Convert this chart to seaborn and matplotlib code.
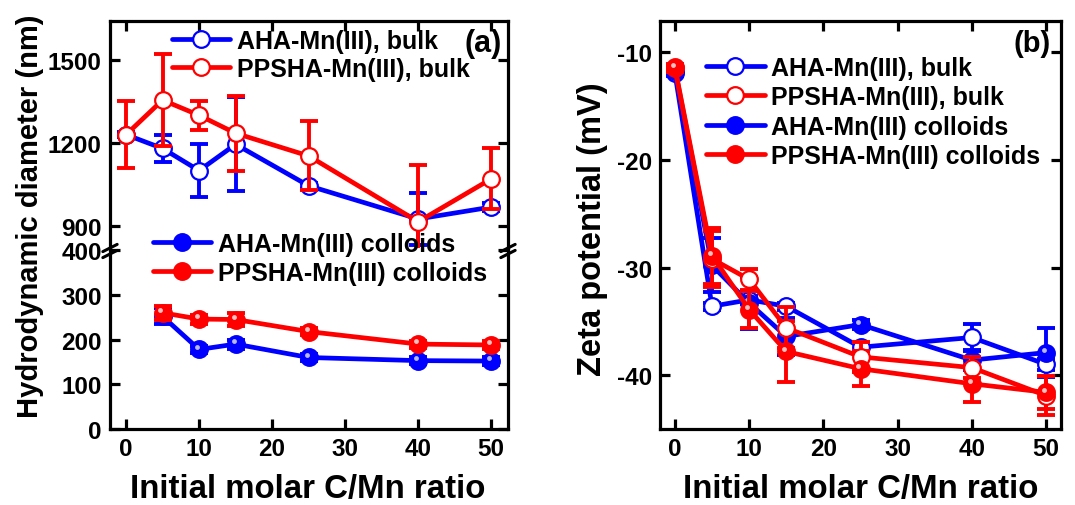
import numpy as np
import pandas as pd
import matplotlib
matplotlib.use("Agg")
import matplotlib.pyplot as plt
import matplotlib.transforms as mtransforms
from matplotlib.lines import Line2D
import seaborn as sns

sns.set_theme(style="ticks")
plt.rcParams["font.family"] = ["Liberation Sans", "DejaVu Sans"]
plt.rcParams["font.weight"] = "bold"
plt.rcParams["axes.labelweight"] = "bold"
plt.rcParams["axes.unicode_minus"] = False
for key in ("text.color", "axes.labelcolor", "xtick.color", "ytick.color",
            "axes.edgecolor"):
    plt.rcParams[key] = "black"

TICK_FS = 17.5
plt.rcParams["xtick.labelsize"] = TICK_FS
plt.rcParams["ytick.labelsize"] = TICK_FS

BLUE = "#0000FF"
RED = "#FF0000"

# ---- (a) hydrodynamic diameter ----
ratio_bulk = [0, 5, 10, 15, 25, 40, 50]
aha_bulk_d = [1230, 1180, 1100, 1195, 1045, 925, 968]
aha_bulk_d_err = [10, 50, 95, 170, 10, 95, 15]
ppsha_bulk_d = [1230, 1355, 1300, 1235, 1153, 915, 1070]
ppsha_bulk_d_err = [120, 165, 52, 135, 125, 205, 110]

ratio_coll = [5, 10, 15, 25, 40, 50]
aha_coll_d = [252, 178, 190, 160, 153, 152]
aha_coll_d_err = [18, 8, 10, 8, 8, 8]
ppsha_coll_d = [260, 246, 245, 218, 190, 188]
ppsha_coll_d_err = [15, 10, 15, 8, 8, 8]

# ---- (b) zeta potential ----
ratio_zeta = [0, 5, 10, 15, 25, 40, 50]
aha_bulk_z = [-11.9, -33.6, -33.0, -33.6, -37.4, -36.5, -39.0]
aha_bulk_z_err = [0.3, 0.3, 0.4, 0.3, 0.4, 1.3, 0.5]
ppsha_bulk_z = [-11.5, -29.2, -31.1, -35.6, -38.3, -39.3, -41.9]
ppsha_bulk_z_err = [0.3, 2.6, 1.0, 1.9, 1.4, 1.0, 1.8]
aha_coll_z = [-11.7, -29.8, -33.3, -36.4, -35.3, -38.6, -37.9]
aha_coll_z_err = [0.3, 2.5, 2.4, 1.7, 0.4, 0.9, 2.3]
ppsha_coll_z = [-11.4, -28.9, -33.9, -37.8, -39.4, -40.8, -41.6]
ppsha_coll_z_err = [0.3, 2.6, 1.7, 2.8, 1.6, 1.7, 1.5]

LABELS = ["AHA-Mn(III), bulk", "PPSHA-Mn(III), bulk",
          "AHA-Mn(III) colloids", "PPSHA-Mn(III) colloids"]

LW = 3.4
MS = 12
SPINE = 2.3

fig = plt.figure(figsize=(10.75, 5.06), dpi=100)
W, H = 1075, 506


def rect(x0, y0, x1, y1):
    return [x0 / W, 1 - y1 / H, (x1 - x0) / W, (y1 - y0) / H]


ax_top = fig.add_axes(rect(110, 22, 508, 249))
ax_bot = fig.add_axes(rect(110, 249, 508, 430))
ax_z = fig.add_axes(rect(660, 22, 1061, 430))


def series(ax, x, y, err, color, filled, z=3):
    df = pd.DataFrame({"x": x, "y": y})
    ax.errorbar(x, y, yerr=err, fmt="none", ecolor=color, elinewidth=2.8,
                capsize=6.5, capthick=2.8, zorder=z)
    sns.lineplot(data=df, x="x", y="y", ax=ax, color=color, lw=LW,
                 marker="o", markersize=MS,
                 markerfacecolor=color if filled else "white",
                 markeredgecolor=color, markeredgewidth=1.6,
                 zorder=z + 0.5, legend=False)
    if filled:
        # small specular spot for a shaded-sphere look
        off = mtransforms.offset_copy(ax.transData, fig=fig, x=-1.5, y=2.0,
                                      units="points")
        hl = "#b8b8ff" if color == BLUE else "#ffc0c0"
        ax.plot(x, y, ls="none", marker="o", markersize=3.5,
                markerfacecolor=hl, markeredgewidth=0, transform=off,
                zorder=z + 0.6)


series(ax_top, ratio_bulk, aha_bulk_d, aha_bulk_d_err, BLUE, False, 3)
series(ax_top, ratio_bulk, ppsha_bulk_d, ppsha_bulk_d_err, RED, False, 4)
series(ax_bot, ratio_coll, aha_coll_d, aha_coll_d_err, BLUE, True, 3)
series(ax_bot, ratio_coll, ppsha_coll_d, ppsha_coll_d_err, RED, True, 4)

series(ax_z, ratio_zeta, aha_bulk_z, aha_bulk_z_err, BLUE, False, 3)
series(ax_z, ratio_zeta, aha_coll_z, aha_coll_z_err, BLUE, True, 3)
series(ax_z, ratio_zeta, ppsha_bulk_z, ppsha_bulk_z_err, RED, False, 4)
series(ax_z, ratio_zeta, ppsha_coll_z, ppsha_coll_z_err, RED, True, 4)

xticks = [0, 10, 20, 30, 40, 50]

# broken y-axis limits
ax_top.set_ylim(820, 1641)
ax_bot.set_ylim(0, 405)
for a in (ax_top, ax_bot):
    a.set_xlim(-2.2, 52.3)
    a.set_xticks(xticks)
ax_top.set_yticks([900, 1200, 1500])
ax_bot.set_yticks([0, 100, 200, 300, 400])

ax_z.set_xlim(-2.0, 52.0)
ax_z.set_ylim(-45.0, -7.1)
ax_z.set_xticks(xticks)
ax_z.set_yticks([-40, -30, -20, -10])

for a in (ax_top, ax_bot, ax_z):
    a.set_xlabel("")
    a.set_ylabel("")
    for s in a.spines.values():
        s.set_linewidth(SPINE)
        s.set_color("black")
    a.tick_params(direction="in", length=7, width=SPINE, labelsize=TICK_FS,
                  colors="black", pad=6)
    for lab in a.get_xticklabels() + a.get_yticklabels():
        lab.set_fontweight("bold")
        lab.set_fontsize(TICK_FS)
        lab.set_color("black")

ax_top.spines["bottom"].set_visible(False)
ax_bot.spines["top"].set_visible(False)
ax_top.tick_params(axis="x", bottom=False, labelbottom=False, top=True)
ax_top.tick_params(axis="y", right=True)
ax_bot.tick_params(axis="x", top=False)
ax_bot.tick_params(axis="y", right=True)
ax_z.tick_params(top=True, right=True)

# diagonal break marks on both spines
for xa in (0.0, 1.0):
    for dy in (-6, 0):
        t = mtransforms.offset_copy(ax_bot.transAxes, fig=fig, x=0, y=dy,
                                    units="dots")
        ax_bot.plot([xa - 0.018, xa + 0.018], [1.0 - 0.02, 1.0 + 0.02],
                    color="black", lw=2.2, transform=t, clip_on=False,
                    zorder=10)


def handle(color, filled):
    return Line2D([], [], color=color, lw=LW, marker="o", markersize=MS,
                  markerfacecolor=color if filled else "white",
                  markeredgecolor=color, markeredgewidth=1.6)


LEG_FS = 18
leg_kw = dict(frameon=False, handlelength=2.35, handletextpad=0.25,
              borderpad=0, borderaxespad=0, loc="upper left",
              prop={"size": LEG_FS, "weight": "bold"})

ax_top.legend([handle(BLUE, False), handle(RED, False)], LABELS[:2],
              bbox_to_anchor=(0.155, 0.965), labelspacing=0.16, **leg_kw)
ax_bot.legend([handle(BLUE, True), handle(RED, True)], LABELS[2:],
              bbox_to_anchor=(0.107, 1.09), labelspacing=0.2, **leg_kw)
ax_z.legend([handle(BLUE, False), handle(RED, False),
             handle(BLUE, True), handle(RED, True)], LABELS,
            bbox_to_anchor=(0.115, 0.915), labelspacing=0.22, **leg_kw)

ax_top.text(0.985, 0.905, "(a)", transform=ax_top.transAxes, ha="right",
            va="center", fontsize=22, fontweight="bold")
ax_z.text(0.975, 0.945, "(b)", transform=ax_z.transAxes, ha="right",
          va="center", fontsize=21, fontweight="bold")

fig.text(308 / W, 1 - 490 / H, "Initial molar C/Mn ratio", ha="center",
         va="center", fontsize=23.8, fontweight="bold")
fig.text(861 / W, 1 - 490 / H, "Initial molar C/Mn ratio", ha="center",
         va="center", fontsize=23.8, fontweight="bold")
fig.text(30 / W, 1 - 216 / H, "Hydrodynamic diameter (nm)", ha="center",
         va="center", rotation=90, fontsize=21, fontweight="bold")
fig.text(593 / W, 1 - 229 / H, "Zeta potential (mV)", ha="center",
         va="center", rotation=90, fontsize=23.5, fontweight="bold")

fig.savefig("out.png", dpi=100)
